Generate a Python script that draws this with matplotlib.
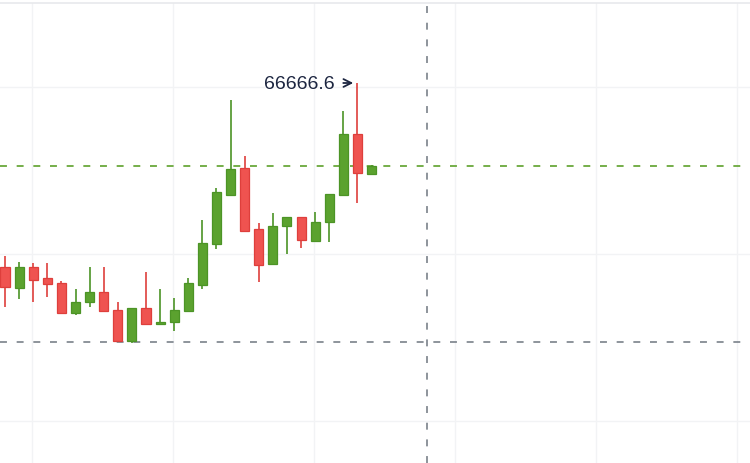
import matplotlib
matplotlib.use("Agg")
import matplotlib.pyplot as plt
import numpy as np

# OHLC values
opens = [65931, 65847, 65931, 65887, 65867, 65747, 65791, 65831, 65759, 65635,
         65767, 65703, 65711, 65755, 65859, 66023, 66219, 66327, 66083, 65943,
         66095, 66131, 66035, 66111, 66219, 66463, 66303]
highs = [65975, 65951, 65947, 65947, 65875, 65843, 65931, 65931, 65791, 65767,
         65911, 65843, 65807, 65887, 66119, 66247, 66599, 66375, 66107, 66147,
         66131, 66131, 66151, 66223, 66555, 66666.6, 66339]
lows = [65771, 65803, 65791, 65811, 65747, 65739, 65771, 65755, 65635, 65627,
        65703, 65703, 65675, 65755, 65843, 66003, 66215, 66075, 65871, 65943,
        65983, 66007, 66031, 66031, 66219, 66187, 66299]
closes = [65851, 65931, 65879, 65863, 65747, 65791, 65831, 65755, 65635, 65767,
          65703, 65711, 65759, 65867, 66027, 66231, 66323, 66075, 65939, 66095,
          66131, 66039, 66111, 66223, 66463, 66307, 66335]

max_label = "66666.6"
crosshair_x = 29.9
crosshair_y = 65631
x_grid = [1.9, 11.9, 21.9, 31.9, 41.9, 51.9]
y_grid = [65315, 65983, 66651]

up_fill, up_edge = "#5ba22f", "#4c9426"
down_fill, down_edge = "#ef5350", "#de3f3c"


def dashes(lw):
    # about 7 px on, 10 px off, whatever the line width
    return (0, (5.0 / lw, 7.0 / lw))


fig = plt.figure(figsize=(7.5, 4.64), dpi=100)
ax = fig.add_axes([0, 0, 1, 460 / 464])

x = np.arange(len(opens))
o = np.array(opens)
c = np.array(closes)
up = c >= o
fills = [up_fill if u else down_fill for u in up]
edges = [up_edge if u else down_edge for u in up]

ax.vlines(x, lows, highs, colors=edges, linewidth=1.2, zorder=3)
ax.bar(x, np.maximum(np.abs(c - o), 4), bottom=np.minimum(o, c), width=0.64,
       color=fills, edgecolor=edges, linewidth=0.9, zorder=4)

# last price line and crosshair
ax.axhline(closes[-1], color="#6aa83c", linestyle=dashes(1.3), linewidth=1.3, zorder=2)
ax.axhline(crosshair_y, color="#6f7780", linestyle=dashes(1.1), linewidth=1.1, zorder=2)
ax.axvline(crosshair_x, color="#6f7780", linestyle=dashes(1.1), linewidth=1.1, zorder=2)

imax = int(np.argmax(highs))
ax.annotate(max_label, xy=(imax - 0.3, highs[imax]), xytext=(imax - 1.6, highs[imax]),
            ha="right", va="center", fontsize=14, color="#1c2540",
            family=["Liberation Sans", "DejaVu Sans"],
            arrowprops=dict(arrowstyle="->", color="#1c2540", lw=1.3,
                            shrinkA=4, shrinkB=0))

ax.set_xlim(-0.355, 52.84)
ax.set_ylim(65146.6, 66986.6)
ax.set_xticks(x_grid)
ax.set_yticks(y_grid)
ax.grid(True, color="#f2f3f5", linewidth=1, zorder=0)
ax.tick_params(length=0, labelbottom=False, labelleft=False)
for side in ["left", "right", "bottom"]:
    ax.spines[side].set_visible(False)
ax.spines["top"].set_color("#e8e9ec")
ax.spines["top"].set_linewidth(1.2)

fig.savefig("out.png", dpi=100, facecolor="white")
